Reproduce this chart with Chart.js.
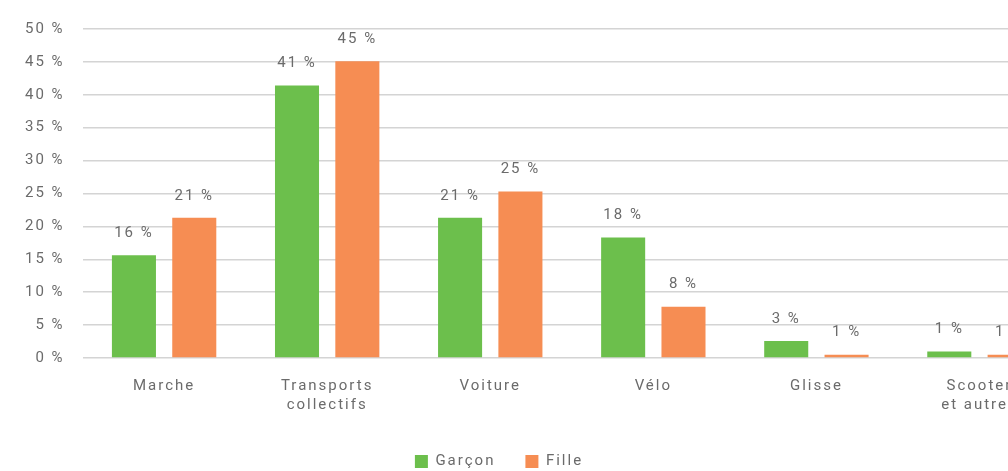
<!DOCTYPE html>
<html>
<head>
<meta charset="utf-8">
<script src="https://cdn.jsdelivr.net/npm/chart.js@4/dist/chart.umd.min.js"></script>
<style>
    html, body { margin: 0; padding: 0; background: #fff; overflow: hidden; }
    .wrap { position: relative; width: 1080px; height: 479px; }
</style>
</head>
<body>
<div class="wrap"><canvas id="modeChart"></canvas></div>
<script>
// catégories (la dernière est coupée à droite comme dans l'original)
const categories = ['Marche', ['Transports', 'collectifs'], 'Voiture', 'Vélo', 'Glisse', ['Scooter', 'et autres']];
const garcon = [15.6, 41.4, 21.3, 18.3, 2.6, 1.0];
const fille = [21.3, 45.1, 25.3, 7.8, 0.5, 0.5];
const yTicks = [0, 5, 10, 15, 20, 25, 30, 35, 40, 45, 50];

const textColor = '#6b6b6b';
const fontFamily = 'Roboto, "Open Sans", sans-serif';
const letterSp = '2px';

// espacement des lettres comme dans le visuel
const spacing = {
    id: 'spacing',
    beforeUpdate(chart) { chart.ctx.letterSpacing = letterSp; },
    beforeDraw(chart) { chart.ctx.letterSpacing = letterSp; }
};

// légende un peu décalée vers la gauche comme dans l'original
const legendShift = {
    id: 'legendShift',
    afterLayout(chart) {
        chart.legend.left -= 35;
        chart.legend.right -= 35;
    }
};

// étiquettes de valeur au-dessus des barres
const valueLabels = {
    id: 'valueLabels',
    afterDatasetsDraw(chart) {
        const ctx = chart.ctx;
        ctx.save();
        ctx.letterSpacing = letterSp;
        ctx.font = '15px ' + fontFamily;
        ctx.fillStyle = textColor;
        ctx.textAlign = 'center';
        ctx.textBaseline = 'middle';
        chart.data.datasets.forEach((ds, i) => {
            chart.getDatasetMeta(i).data.forEach((bar, j) => {
                ctx.fillText(Math.round(ds.data[j]) + ' %', bar.x, bar.y - 22);
            });
        });
        ctx.restore();
    }
};

new Chart(document.getElementById('modeChart'), {
    type: 'bar',
    data: {
        labels: categories,
        datasets: [
            { label: 'Garçon', data: garcon, backgroundColor: '#6cbf4c' },
            { label: 'Fille', data: fille, backgroundColor: '#f68d53' }
        ]
    },
    options: {
        responsive: true,
        maintainAspectRatio: false,
        animation: false,
        categoryPercentage: 0.74,
        barPercentage: 0.73,
        layout: { padding: { top: 29, left: 7, right: 19, bottom: 0 } },
        plugins: {
            legend: {
                position: 'bottom',
                labels: {
                    boxWidth: 13,
                    boxHeight: 13,
                    padding: 30,
                    color: textColor,
                    font: { family: fontFamily, size: 15 }
                }
            },
            tooltip: { enabled: false }
        },
        scales: {
            x: {
                grid: { display: false },
                border: { display: false },
                afterFit(axis) { axis.height = 66; },
                ticks: {
                    color: textColor,
                    padding: 11,
                    font: { family: fontFamily, size: 15, lineHeight: 1.25 }
                }
            },
            y: {
                min: 0,
                max: 50,
                afterBuildTicks(axis) { axis.ticks = yTicks.map(v => ({ value: v })); },
                grid: { color: '#d4d4d4', lineWidth: 1.5, drawTicks: false },
                border: { display: false },
                ticks: {
                    color: textColor,
                    padding: 18,
                    font: { family: fontFamily, size: 15 },
                    callback: v => v + ' %'
                }
            }
        }
    },
    plugins: [spacing, legendShift, valueLabels]
});
</script>
</body>
</html>
